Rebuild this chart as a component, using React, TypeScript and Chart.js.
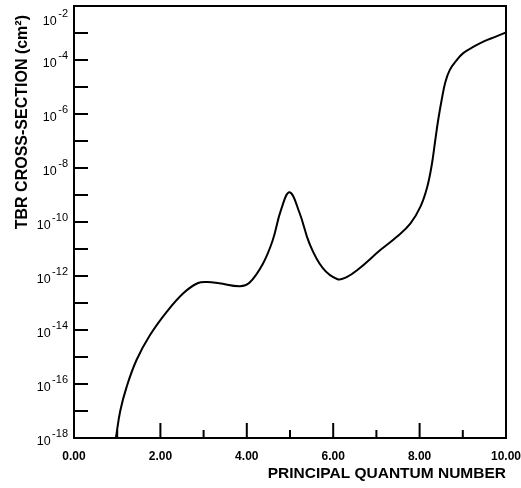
import React, { useEffect, useRef } from 'react';
import { Chart, registerables } from 'chart.js';

Chart.register(...registerables);

// ---- data ----
const quantumNumbers = [
  0.97, 1.07, 1.22, 1.45, 1.76, 2.15, 2.53, 2.86, 3.09, 3.36, 3.84, 4.06, 4.37, 4.6, 4.79, 4.99,
  5.22, 5.45, 5.76, 6.1, 6.3, 6.56, 7.09, 7.48, 7.79, 8.02, 8.17, 8.28, 8.36, 8.43, 8.52, 8.6,
  8.7, 8.85, 9.01, 9.25, 9.5, 9.75, 10.0,
];
const crossSections = [
  1.0e-18, 1.0e-17, 8.0e-17, 7.9e-16, 6.5e-15, 4.8e-14, 2.3e-13, 5.4e-13, 6.0e-13, 5.4e-13,
  4.2e-13, 5.6e-13, 2.8e-12, 2.1e-11, 2.75e-10, 1.26e-9, 2.2e-10, 1.6e-11, 1.95e-12, 7.6e-13,
  8.9e-13, 1.66e-12, 9.1e-12, 2.9e-11, 8.9e-11, 3.7e-10, 1.8e-9, 1.26e-8, 1.0e-7, 6.0e-7,
  4.0e-6, 1.6e-5, 4.3e-5, 9.5e-5, 1.8e-4, 3.1e-4, 5.0e-4, 7.2e-4, 1.05e-3,
];
const xTickValues = [0, 1, 2, 3, 4, 5, 6, 7, 8, 9, 10];
const xTickLabels = ['0.00', '', '2.00', '', '4.00', '', '6.00', '', '8.00', '', '10.00'];
const yDecadeExponents = [-18, -17, -16, -15, -14, -13, -12, -11, -10, -9, -8, -7, -6, -5, -4, -3, -2];
const yLabelExponents = [-18, -16, -14, -12, -10, -8, -6, -4, -2];
const xAxisTitle = 'PRINCIPAL QUANTUM NUMBER';
const yAxisTitle = 'TBR CROSS-SECTION (cm²)';

const FONT = "'Liberation Sans', Arial, Helvetica, sans-serif";

const framePlugin = {
  id: 'frameTicks',
  afterDraw(chart: any) {
    const { ctx, chartArea: a, scales } = chart;
    const x = scales.x;
    const y = scales.y;
    ctx.save();
    ctx.strokeStyle = '#000';
    ctx.fillStyle = '#000';
    ctx.lineWidth = 2;
    ctx.strokeRect(a.left, a.top, a.right - a.left, a.bottom - a.top);

    const line = (x1: number, y1: number, x2: number, y2: number) => {
      ctx.beginPath();
      ctx.moveTo(x1, y1);
      ctx.lineTo(x2, y2);
      ctx.stroke();
    };
    // inward x ticks
    x.ticks.forEach((t: any) => {
      const px = x.getPixelForValue(t.value);
      const len = Math.round(t.value) % 2 === 0 ? 15 : 8;
      line(px, a.bottom, px, a.bottom - len);
    });
    // inward y ticks
    y.ticks.forEach((t: any) => {
      const py = y.getPixelForValue(t.value);
      line(a.left, py, a.left + 14, py);
    });

    // y tick labels: 10 with superscript exponent
    const rightEdge = a.left - 6;
    yLabelExponents.forEach((e) => {
      let py = y.getPixelForValue(Math.pow(10, e));
      py = Math.max(py, a.top + 12);
      const exp = String(e);
      ctx.font = `11px ${FONT}`;
      const ew = ctx.measureText(exp).width;
      ctx.textAlign = 'left';
      ctx.textBaseline = 'alphabetic';
      ctx.fillText(exp, rightEdge - ew, py - 1);
      ctx.font = `12.5px ${FONT}`;
      ctx.textAlign = 'right';
      ctx.fillText('10', rightEdge - ew - 1.5, py + 7);
    });

    // y axis title (rotated)
    ctx.translate(23, 15);
    ctx.rotate(-Math.PI / 2);
    ctx.font = `bold 16px ${FONT}`;
    ctx.textAlign = 'right';
    ctx.textBaseline = 'middle';
    ctx.fillText(yAxisTitle, 0, 0);
    ctx.restore();
  },
};

export default function App() {
  const canvasRef = useRef<HTMLCanvasElement | null>(null);

  useEffect(() => {
    if (!canvasRef.current) return;
    Chart.defaults.font.family = FONT;
    Chart.defaults.color = '#000';
    const chart = new Chart(canvasRef.current, {
      type: 'line',
      data: {
        datasets: [
          {
            data: quantumNumbers.map((n, i) => ({ x: n, y: crossSections[i] })),
            borderColor: '#000',
            borderWidth: 2,
            pointRadius: 0,
            fill: false,
            tension: 0.4,
          },
        ],
      },
      options: {
        responsive: false,
        animation: false,
        devicePixelRatio: 1,
        layout: { padding: { top: 6, right: 15, left: 0, bottom: 0 } },
        plugins: { legend: { display: false }, tooltip: { enabled: false } },
        scales: {
          x: {
            type: 'linear',
            min: 0,
            max: 10,
            afterFit: (s: any) => {
              s.height = 50;
              s.paddingLeft = 0;
              s.paddingRight = 0;
            },
            afterBuildTicks: (s: any) => {
              s.ticks = xTickValues.map((v) => ({ value: v }));
            },
            grid: { display: false, drawTicks: false },
            border: { display: false },
            ticks: {
              autoSkip: false,
              maxRotation: 0,
              padding: 11,
              font: { size: 12, weight: 'bold' },
              color: '#000',
              callback: (v: any) => {
                const i = xTickValues.indexOf(Number(v));
                return i >= 0 ? xTickLabels[i] : '';
              },
            },
            title: {
              display: true,
              text: xAxisTitle,
              align: 'end',
              color: '#000',
              font: { size: 15.5, weight: 'bold' },
              padding: { top: 4, bottom: 5 },
            },
          },
          y: {
            type: 'logarithmic',
            min: 1e-18,
            max: 1e-2,
            afterFit: (s: any) => {
              s.width = 74;
              s.paddingTop = 0;
              s.paddingBottom = 0;
            },
            afterBuildTicks: (s: any) => {
              s.ticks = yDecadeExponents.map((e) => ({ value: Math.pow(10, e) }));
            },
            grid: { display: false, drawTicks: false },
            border: { display: false },
            ticks: { display: false },
            title: { display: false },
          },
        },
      },
      plugins: [framePlugin],
    } as any);
    return () => chart.destroy();
  }, []);

  return (
    <div style={{ position: 'fixed', left: 0, top: 0, width: 521, height: 488, background: '#fff' }}>
      <canvas ref={canvasRef} width={521} height={488} style={{ display: 'block' }} />
    </div>
  );
}
